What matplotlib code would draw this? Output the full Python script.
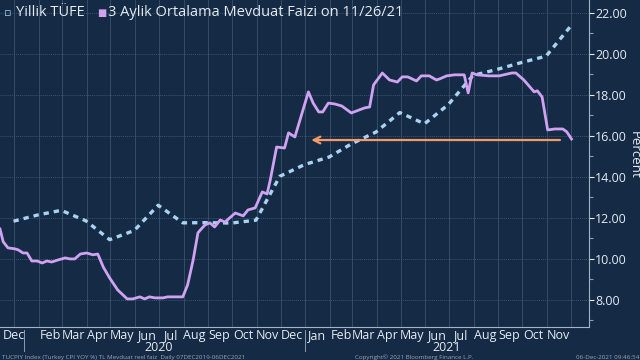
import matplotlib
matplotlib.use('Agg')
import matplotlib.pyplot as plt
import matplotlib.transforms as mtransforms
import pandas as pd

# Yillik TUFE (monthly CPI YoY, plotted at month end)
cpi_dates = ['2019-12-31', '2020-01-31', '2020-02-29', '2020-03-31', '2020-04-30',
             '2020-05-31', '2020-06-30', '2020-07-31', '2020-08-31', '2020-09-30',
             '2020-10-31', '2020-11-30', '2020-12-31', '2021-01-31', '2021-02-28',
             '2021-03-31', '2021-04-30', '2021-05-31', '2021-06-30', '2021-07-31',
             '2021-08-31', '2021-09-30', '2021-10-31', '2021-11-30']
cpi_values = [11.84, 12.15, 12.37, 11.86, 10.94, 11.39, 12.62, 11.76, 11.77, 11.75,
              11.89, 14.03, 14.60, 14.97, 15.61, 16.19, 17.14, 16.59, 17.53, 18.95,
              19.25, 19.58, 19.89, 21.31]

# 3 Aylik Ortalama Mevduat Faizi
dep_dates = ['2019-12-14', '2019-12-18', '2019-12-24', '2020-01-02', '2020-01-06',
             '2020-01-12', '2020-01-17', '2020-01-23', '2020-01-30', '2020-02-05',
             '2020-02-11', '2020-02-17', '2020-02-25', '2020-03-05', '2020-03-11',
             '2020-03-17', '2020-03-24', '2020-04-01', '2020-04-09', '2020-04-15',
             '2020-04-22', '2020-04-30', '2020-05-10', '2020-05-22', '2020-05-29',
             '2020-06-07', '2020-06-13', '2020-06-19', '2020-06-26', '2020-07-06',
             '2020-07-12', '2020-07-24', '2020-07-31', '2020-08-06', '2020-08-13',
             '2020-08-19', '2020-08-22', '2020-08-28', '2020-09-03', '2020-09-09',
             '2020-09-16', '2020-09-22', '2020-10-05', '2020-10-15', '2020-10-21',
             '2020-10-30', '2020-11-08', '2020-11-14', '2020-11-18', '2020-11-26',
             '2020-12-06', '2020-12-11', '2020-12-19', '2021-01-05', '2021-01-11',
             '2021-01-18', '2021-01-23', '2021-01-30', '2021-02-07', '2021-02-16',
             '2021-02-28', '2021-03-10', '2021-03-17', '2021-03-23', '2021-03-28',
             '2021-04-08', '2021-04-17', '2021-04-27', '2021-05-03', '2021-05-10',
             '2021-05-21', '2021-05-27', '2021-06-06', '2021-06-15', '2021-06-19',
             '2021-06-28', '2021-07-08', '2021-07-20', '2021-07-25', '2021-07-30',
             '2021-08-05', '2021-08-20', '2021-09-02', '2021-09-18', '2021-09-23',
             '2021-10-03', '2021-10-16', '2021-10-20', '2021-10-26', '2021-11-02',
             '2021-11-11', '2021-11-21', '2021-11-26', '2021-12-02']
dep_values = [11.46, 10.84, 10.54, 10.49, 10.44, 10.29, 10.29, 9.90, 9.90, 9.80,
              9.90, 9.85, 9.95, 10.05, 10.00, 10.00, 10.24, 10.29, 10.20, 10.24,
              9.60, 9.07, 8.49, 8.05, 8.05, 8.15, 8.05, 8.15, 8.10, 8.10,
              8.15, 8.15, 8.15, 8.73, 9.95, 11.27, 11.41, 11.66, 11.76, 11.56,
              11.90, 11.80, 12.24, 12.10, 12.39, 12.49, 13.27, 13.17, 13.85, 15.46,
              15.41, 16.15, 15.95, 18.15, 17.60, 17.17, 17.17, 17.60, 17.56, 17.46,
              17.12, 17.27, 17.37, 17.41, 18.49, 19.07, 18.73, 18.63, 18.88, 18.88,
              18.68, 18.93, 18.93, 18.73, 18.78, 18.93, 18.98, 18.98, 18.10, 19.07,
              18.98, 18.93, 18.93, 19.07, 19.07, 18.73, 18.15, 18.20, 17.90, 16.29,
              16.34, 16.34, 16.20, 15.85]

month_labels = ['Dec', 'Feb', 'Mar', 'Apr', 'May', 'Jun', 'Jul', 'Aug', 'Sep', 'Oct', 'Nov',
                'Dec', 'Jan', 'Feb', 'Mar', 'Apr', 'May', 'Jun', 'Jul', 'Aug', 'Sep', 'Oct', 'Nov']
month_label_dates = ['2019-12-31', '2020-02-15', '2020-03-15', '2020-04-15', '2020-05-15',
                     '2020-06-15', '2020-07-15', '2020-08-15', '2020-09-15', '2020-10-15',
                     '2020-11-15', '2020-12-15', '2021-01-15', '2021-02-15', '2021-03-15',
                     '2021-04-15', '2021-05-15', '2021-06-15', '2021-07-15', '2021-08-15',
                     '2021-09-15', '2021-10-15', '2021-11-15']

arrow_start = ('2021-11-21', 15.80)
arrow_end = ('2021-01-05', 15.80)

bg = '#152a44'
fg = '#e6ebf2'
grid_c = '#3b5270'

plt.rcParams['font.family'] = ['Open Sans', 'DejaVu Sans']

fig = plt.figure(figsize=(6.4, 3.6), dpi=100, facecolor=bg)
ax = fig.add_axes([0.0, 33 / 360, 589 / 640, 327 / 360], facecolor=bg)

x_left = pd.Timestamp('2019-12-14')
x_right = pd.Timestamp('2021-12-24')
ax.set_xlim(x_left, x_right)
ax.set_ylim(6.68, 22.63)

cpi_x = pd.to_datetime(cpi_dates)
dep_x = pd.to_datetime(dep_dates)

ax.plot(cpi_x, cpi_values, color='#a9d3f2', linewidth=2.4, linestyle=(0, (1.6, 1.5)),
        dash_capstyle='butt', zorder=3)
ax.plot(dep_x, dep_values, color='#cfa2f2', linewidth=2.0, zorder=4)

ax.annotate('', xy=(pd.Timestamp(arrow_end[0]), arrow_end[1]),
            xytext=(pd.Timestamp(arrow_start[0]), arrow_start[1]),
            arrowprops=dict(arrowstyle='->', color='#f29a68', lw=1.6,
                            mutation_scale=12), zorder=5)

# y axis on the right
ax.yaxis.tick_right()
ax.set_yticks([8, 10, 12, 14, 16, 18, 20, 22])
ax.set_yticklabels([f'{v:.2f}' for v in [8, 10, 12, 14, 16, 18, 20, 22]])
ax.set_yticks([7, 9, 11, 13, 15, 17, 19, 21], minor=True)
ax.tick_params(axis='y', which='major', colors=fg, labelcolor=fg, labelsize=9,
               length=3.5, width=0.8, pad=1, direction='out')
ax.tick_params(axis='y', which='minor', colors='#8a9bb2', length=3, width=0.8)
fig.text(634 / 640, 1 - 155 / 360, 'Percent', color=fg, fontsize=9.5, rotation=270,
         ha='center', va='center')

# month gridlines at month starts, labels mid month
month_starts = pd.date_range('2020-01-01', '2021-12-01', freq='MS')
ax.set_xticks(month_starts)
ax.set_xticklabels([])
ax.tick_params(axis='x', which='major', length=0)
ax.grid(True, axis='x', color=grid_c, linewidth=0.6, linestyle='-')
ax.grid(True, axis='y', which='major', color=grid_c, linewidth=0.7, linestyle=(0, (1, 1)))
ax.set_axisbelow(True)

trans = mtransforms.blended_transform_factory(ax.transData, ax.transAxes)
for lbl, d in zip(month_labels, month_label_dates):
    ax.text(pd.Timestamp(d), -0.026, lbl, transform=trans, ha='center', va='center',
            color=fg, fontsize=9)

ax.text(pd.Timestamp('2020-07-01'), -0.062, '2020', transform=trans, ha='center',
        va='center', color=fg, fontsize=9)
mid_2021 = pd.Timestamp('2021-01-01') + (x_right - pd.Timestamp('2021-01-01')) / 2
ax.text(mid_2021, -0.062, '2021', transform=trans, ha='center', va='center',
        color=fg, fontsize=9)

for d in ['2020-01-13', '2021-01-01']:
    ax.plot([pd.Timestamp(d)] * 2, [-0.01, -0.072], transform=trans, color='#8a9bb2',
            linewidth=0.7, clip_on=False)

for s in ['left', 'top']:
    ax.spines[s].set_visible(False)
ax.spines['right'].set_color('#a5b3c5')
ax.spines['bottom'].set_color('#a5b3c5')
ax.spines['right'].set_linewidth(0.8)
ax.spines['bottom'].set_linewidth(0.8)

# legend row
fig.text(8 / 640, 1 - 13 / 360, '\u25ab', color='#a9d3f2', fontsize=8, ha='center', va='center',
         family=['DejaVu Sans'])
fig.text(16 / 640, 1 - 13 / 360, 'Yillik TÜFE', color=fg, fontsize=10.5, ha='left', va='center')
fig.text(102 / 640, 1 - 13 / 360, '\u25a0', color='#cfa2f2', fontsize=7, ha='center',
         va='center', family=['DejaVu Sans'])
fig.text(108 / 640, 1 - 13 / 360, '3 Aylik Ortalama Mevduat Faizi on 11/26/21', color=fg,
         fontsize=10.5, ha='left', va='center')

# footer
foot_c = '#9aa7b8'
fig.text(2 / 640, 1 - 357.5 / 360, 'TUCPIY Index (Turkey CPI YOY %) TL Mevduat reel faiz  Daily 07DEC2019-06DEC2021',
         color=foot_c, fontsize=4.5, ha='left', va='center')
fig.text(355 / 640, 1 - 357.5 / 360, 'Copyright\u00a9 2021 Bloomberg Finance L.P.',
         color=foot_c, fontsize=4.5, ha='left', va='center')
fig.text(639 / 640, 1 - 357.5 / 360, '06-Dec-2021 09:46:54',
         color=foot_c, fontsize=4.5, ha='right', va='center')

fig.savefig('out.png', dpi=100, facecolor=bg)
